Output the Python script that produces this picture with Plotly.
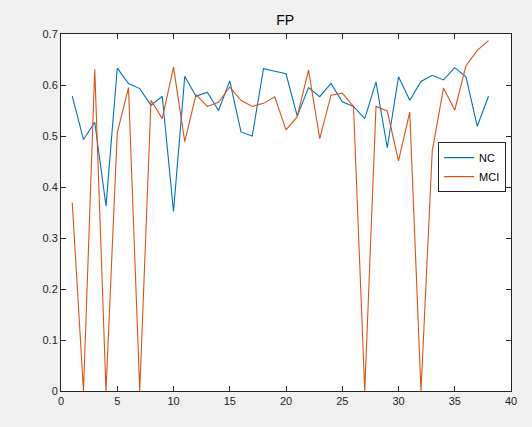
import plotly.graph_objects as go

x = list(range(1, 39))
nc = [0.578, 0.493, 0.527, 0.363, 0.633, 0.603, 0.593, 0.560, 0.578, 0.352,
      0.617, 0.578, 0.586, 0.550, 0.608, 0.508, 0.500, 0.632, 0.627, 0.622,
      0.539, 0.595, 0.577, 0.603, 0.567, 0.558, 0.534, 0.606, 0.477, 0.616,
      0.570, 0.607, 0.619, 0.610, 0.634, 0.616, 0.519, 0.578]
mci = [0.369, 0.0, 0.631, 0.0, 0.506, 0.595, 0.0, 0.570, 0.534, 0.635,
       0.489, 0.581, 0.558, 0.566, 0.596, 0.570, 0.558, 0.564, 0.577, 0.512,
       0.538, 0.629, 0.495, 0.580, 0.584, 0.558, 0.0, 0.558, 0.549, 0.451,
       0.547, 0.0, 0.471, 0.594, 0.551, 0.638, 0.668, 0.687]
xticks = [0, 5, 10, 15, 20, 25, 30, 35, 40]
yticks = [0, 0.1, 0.2, 0.3, 0.4, 0.5, 0.6, 0.7]
yticklabels = ["0", "0.1", "0.2", "0.3", "0.4", "0.5", "0.6", "0.7"]

fig = go.Figure()
fig.add_trace(go.Scatter(x=x, y=nc, mode="lines", name="NC",
                         line=dict(color="#0072BD", width=1.1)))
fig.add_trace(go.Scatter(x=x, y=mci, mode="lines", name="MCI",
                         line=dict(color="#D95319", width=1.1)))

axis_common = dict(showline=True, linecolor="#262626", linewidth=1, mirror="allticks",
                   ticks="inside", ticklen=5, tickcolor="#262626", showgrid=False,
                   zeroline=False, tickfont=dict(family="Liberation Sans, Arial", size=11, color="#262626"))

fig.update_layout(
    width=532, height=427,
    margin=dict(l=61, r=21, t=34, b=36),
    paper_bgcolor="#f0f0f0", plot_bgcolor="white",
    title=dict(text="FP", x=0.536, xanchor="center", y=(427 - 20) / 427, yanchor="middle",
               yref="container",
               font=dict(family="Liberation Sans, Arial", size=14, color="#000000")),
    xaxis=dict(range=[0, 40], tickvals=xticks, **axis_common),
    yaxis=dict(range=[0, 0.7], tickvals=yticks, ticktext=yticklabels, **axis_common),
    legend=dict(x=0.838, y=0.697, xanchor="left", yanchor="top",
                bgcolor="white", bordercolor="#262626", borderwidth=1,
                font=dict(family="Liberation Sans, Arial", size=11, color="#000000"),
                tracegroupgap=0, itemwidth=30),
    showlegend=True,
)
fig.write_html("out.html")
